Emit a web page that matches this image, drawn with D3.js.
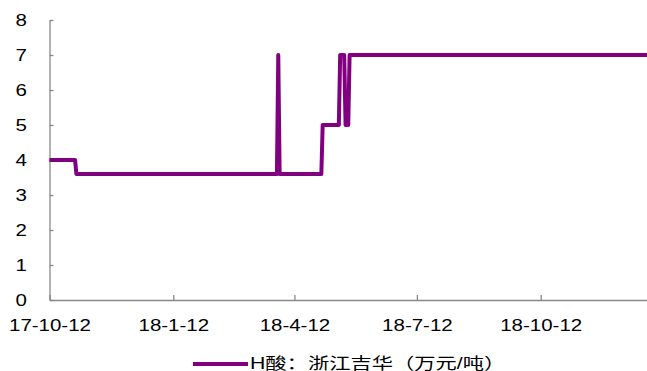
<!DOCTYPE html>
<html>
<head>
<meta charset="utf-8">
<script src="https://cdn.jsdelivr.net/npm/d3@7"></script>
<style>
  html, body { margin: 0; padding: 0; background: #fff; }
  svg { display: block; }
  text { font-family: "Liberation Sans", Arial, "Noto Sans CJK SC", sans-serif; fill: #000; }
</style>
</head>
<body>
<svg id="chart" width="647" height="371"></svg>
<script>
// ---- data ----
const dates = [
  "2017-10-12", "2017-10-31", "2017-11-01",
  "2018-03-30", "2018-03-31", "2018-04-01",
  "2018-05-02", "2018-05-03",
  "2018-05-15", "2018-05-16", "2018-05-19", "2018-05-20",
  "2018-05-22", "2018-05-23", "2018-12-30"
];
const values = [
  4, 4, 3.6,
  3.6, 7, 3.6,
  3.6, 5,
  5, 7, 7, 5,
  5, 7, 7
];
const seriesName = "H酸：浙江吉华（万元/吨）";
const yTicks = [0, 1, 2, 3, 4, 5, 6, 7, 8];
const xTickDates = ["2017-10-12", "2018-01-12", "2018-04-12", "2018-07-12", "2018-10-12"];
const xDomain = ["2017-10-12", "2018-12-30"];

// ---- layout ----
const svg = d3.select("#chart");
const mLeft = 49.5, mRight = 647, mTop = 20, mBottom = 300;
const stretch = 1.28;
const axisColor = "#898989";
const lineColor = "#800080";

const parse = d3.utcParse("%Y-%m-%d");
const data = dates.map((d, i) => ({ date: parse(d), value: values[i] }));

const x = d3.scaleUtc().domain(xDomain.map(parse)).range([mLeft, mRight]);
const y = d3.scaleLinear().domain([0, 8]).range([mBottom, mTop]);

// Y axis
const yAxis = svg.append("g")
  .attr("transform", `translate(${mLeft},0)`)
  .call(d3.axisLeft(y).tickValues(yTicks).tickSizeInner(-4).tickSizeOuter(0).tickFormat(d3.format("d")));
yAxis.select(".domain").attr("stroke", axisColor).attr("stroke-width", 1.3);
yAxis.selectAll(".tick line").attr("stroke", axisColor).attr("stroke-width", 1.3);
yAxis.selectAll(".tick text")
  .attr("x", 0)
  .attr("text-anchor", "end")
  .attr("transform", `translate(-22.5,0) scale(${stretch},1)`)
  .style("font-size", "16px")
  .attr("font-family", null);

// X axis
const fmt = d3.utcFormat("%y-%-m-%d");
const xAxis = svg.append("g")
  .attr("transform", `translate(0,${mBottom})`)
  .call(d3.axisBottom(x).tickValues(xTickDates.map(parse)).tickSizeInner(-5).tickSizeOuter(0).tickFormat(fmt));
xAxis.select(".domain").attr("stroke", axisColor).attr("stroke-width", 1.3);
xAxis.selectAll(".tick line").attr("stroke", axisColor).attr("stroke-width", 1.3);
xAxis.selectAll(".tick text")
  .attr("y", 31.5)
  .attr("dy", 0)
  .attr("transform", `scale(${stretch},1)`)
  .style("font-size", "16px")
  .attr("font-family", null);

// Line
const line = d3.line().x(d => x(d.date)).y(d => y(d.value));
svg.append("path")
  .datum(data)
  .attr("fill", "none")
  .attr("stroke", lineColor)
  .attr("stroke-width", 4)
  .attr("stroke-linejoin", "round")
  .attr("d", line);

// Legend
const lg = svg.append("g");
lg.append("line")
  .attr("x1", 193).attr("x2", 248)
  .attr("y1", 364).attr("y2", 364)
  .attr("stroke", lineColor).attr("stroke-width", 4);
lg.append("text")
  .attr("transform", `translate(250,369) scale(1.33,1)`)
  .style("font-size", "16px")
  .text(seriesName);
</script>
</body>
</html>
